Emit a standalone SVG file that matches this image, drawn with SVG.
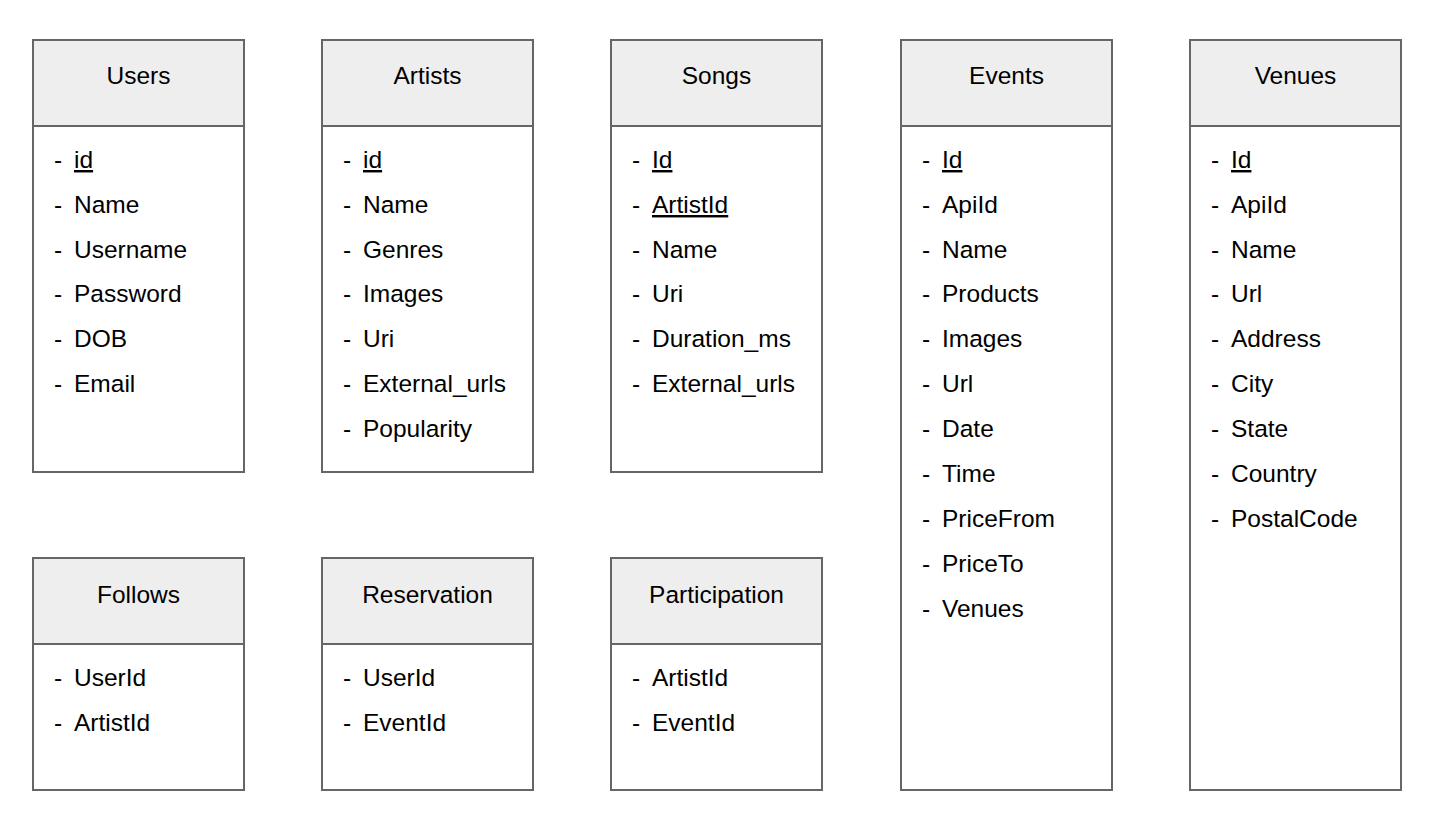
<svg xmlns="http://www.w3.org/2000/svg" width="1444" height="830" viewBox="0 0 1444 830">
<style>
.box{fill:#ffffff;stroke:#666666;stroke-width:2}
.hdr{fill:#eeeeee;stroke:#666666;stroke-width:2}
text{font-family:"Liberation Sans",Arial,sans-serif;font-size:24.5px;fill:#000000}
.t{text-anchor:middle}
.u{text-decoration:underline}
</style>
<rect width="1444" height="830" fill="#ffffff"/>
<g id="users">
<rect class="box" x="33" y="40" width="211" height="432"/>
<rect class="hdr" x="33" y="40" width="211" height="86"/>
<text class="t" x="138.5" y="84">Users</text>
<text x="54" y="168">-</text><text class="u" x="74" y="168">id</text>
<text x="54" y="213">-</text><text x="74" y="213">Name</text>
<text x="54" y="258">-</text><text x="74" y="258">Username</text>
<text x="54" y="302">-</text><text x="74" y="302">Password</text>
<text x="54" y="347">-</text><text x="74" y="347">DOB</text>
<text x="54" y="392">-</text><text x="74" y="392">Email</text>
</g>
<g id="artists">
<rect class="box" x="322" y="40" width="211" height="432"/>
<rect class="hdr" x="322" y="40" width="211" height="86"/>
<text class="t" x="427.5" y="84">Artists</text>
<text x="343" y="168">-</text><text class="u" x="363" y="168">id</text>
<text x="343" y="213">-</text><text x="363" y="213">Name</text>
<text x="343" y="258">-</text><text x="363" y="258">Genres</text>
<text x="343" y="302">-</text><text x="363" y="302">Images</text>
<text x="343" y="347">-</text><text x="363" y="347">Uri</text>
<text x="343" y="392">-</text><text x="363" y="392">External_urls</text>
<text x="343" y="437">-</text><text x="363" y="437">Popularity</text>
</g>
<g id="songs">
<rect class="box" x="611" y="40" width="211" height="432"/>
<rect class="hdr" x="611" y="40" width="211" height="86"/>
<text class="t" x="716.5" y="84">Songs</text>
<text x="632" y="168">-</text><text class="u" x="652" y="168">Id</text>
<text x="632" y="213">-</text><text class="u" x="652" y="213">ArtistId</text>
<text x="632" y="258">-</text><text x="652" y="258">Name</text>
<text x="632" y="302">-</text><text x="652" y="302">Uri</text>
<text x="632" y="347">-</text><text x="652" y="347">Duration_ms</text>
<text x="632" y="392">-</text><text x="652" y="392">External_urls</text>
</g>
<g id="events">
<rect class="box" x="901" y="40" width="211" height="750"/>
<rect class="hdr" x="901" y="40" width="211" height="86"/>
<text class="t" x="1006.5" y="84">Events</text>
<text x="922" y="168">-</text><text class="u" x="942" y="168">Id</text>
<text x="922" y="213">-</text><text x="942" y="213">ApiId</text>
<text x="922" y="258">-</text><text x="942" y="258">Name</text>
<text x="922" y="302">-</text><text x="942" y="302">Products</text>
<text x="922" y="347">-</text><text x="942" y="347">Images</text>
<text x="922" y="392">-</text><text x="942" y="392">Url</text>
<text x="922" y="437">-</text><text x="942" y="437">Date</text>
<text x="922" y="482">-</text><text x="942" y="482">Time</text>
<text x="922" y="527">-</text><text x="942" y="527">PriceFrom</text>
<text x="922" y="572">-</text><text x="942" y="572">PriceTo</text>
<text x="922" y="617">-</text><text x="942" y="617">Venues</text>
</g>
<g id="venues">
<rect class="box" x="1190" y="40" width="211" height="750"/>
<rect class="hdr" x="1190" y="40" width="211" height="86"/>
<text class="t" x="1295.5" y="84">Venues</text>
<text x="1211" y="168">-</text><text class="u" x="1231" y="168">Id</text>
<text x="1211" y="213">-</text><text x="1231" y="213">ApiId</text>
<text x="1211" y="258">-</text><text x="1231" y="258">Name</text>
<text x="1211" y="302">-</text><text x="1231" y="302">Url</text>
<text x="1211" y="347">-</text><text x="1231" y="347">Address</text>
<text x="1211" y="392">-</text><text x="1231" y="392">City</text>
<text x="1211" y="437">-</text><text x="1231" y="437">State</text>
<text x="1211" y="482">-</text><text x="1231" y="482">Country</text>
<text x="1211" y="527">-</text><text x="1231" y="527">PostalCode</text>
</g>
<g id="follows">
<rect class="box" x="33" y="558" width="211" height="232"/>
<rect class="hdr" x="33" y="558" width="211" height="86"/>
<text class="t" x="138.5" y="603">Follows</text>
<text x="54" y="686">-</text><text x="74" y="686">UserId</text>
<text x="54" y="731">-</text><text x="74" y="731">ArtistId</text>
</g>
<g id="reservation">
<rect class="box" x="322" y="558" width="211" height="232"/>
<rect class="hdr" x="322" y="558" width="211" height="86"/>
<text class="t" x="427.5" y="603">Reservation</text>
<text x="343" y="686">-</text><text x="363" y="686">UserId</text>
<text x="343" y="731">-</text><text x="363" y="731">EventId</text>
</g>
<g id="participation">
<rect class="box" x="611" y="558" width="211" height="232"/>
<rect class="hdr" x="611" y="558" width="211" height="86"/>
<text class="t" x="716.5" y="603">Participation</text>
<text x="632" y="686">-</text><text x="652" y="686">ArtistId</text>
<text x="632" y="731">-</text><text x="652" y="731">EventId</text>
</g>
<g id="connectors"></g>
</svg>
